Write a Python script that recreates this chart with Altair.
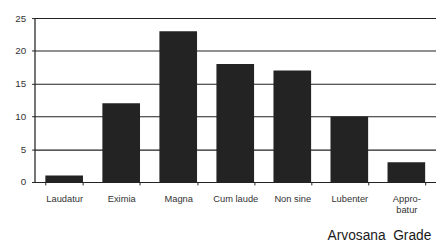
import altair as alt
import pandas as pd

grades = ["Laudatur", "Eximia", "Magna", "Cum laude", "Non sine", "Lubenter", "Approbatur"]
counts = [1, 12, 23, 18, 17, 10, 3]

df = pd.DataFrame({"grade": grades, "count": counts})

font = "Liberation Sans"

chart = alt.Chart(df).mark_bar(color="#232323").encode(
    x=alt.X("grade:N", sort=grades,
            scale=alt.Scale(paddingInner=0.34, paddingOuter=0.19),
            axis=alt.Axis(title="Arvosana\u00a0\u00a0Grade", titleX=298, titleY=59,
                          titleAlign="left", titleBaseline="alphabetic",
                          titleFontSize=14, titleFontWeight="normal", titleColor="#1a1a1a",
                          titleFont=font,
                          labelAngle=0, labelFontSize=9.5, labelColor="#333", labelFont=font,
                          labelPadding=9, tickBand="extent", tickSize=3, tickColor="#222",
                          domainColor="#222", domainWidth=1.2,
                          labelExpr="datum.label == 'Approbatur' ? ['Appro-', 'batur'] : datum.label")),
    y=alt.Y("count:Q", scale=alt.Scale(domain=[0, 25]),
            axis=alt.Axis(title=None, values=[0, 5, 10, 15, 20, 25], grid=True,
                          gridColor="#222", gridWidth=1.1, gridOpacity=1,
                          labelFontSize=10, labelColor="#333", labelFont=font,
                          tickSize=3, tickColor="#222", labelPadding=6,
                          domainColor="#222", domainWidth=1.2)),
).properties(
    width=409, height=167,
    autosize=alt.AutoSizeParams(type="none"),
    padding={"left": 27, "top": 8, "right": 0, "bottom": 66},
).configure_view(stroke=None).configure(background="white")

chart.save("out.html", embed_options={"renderer": "svg", "actions": False})
